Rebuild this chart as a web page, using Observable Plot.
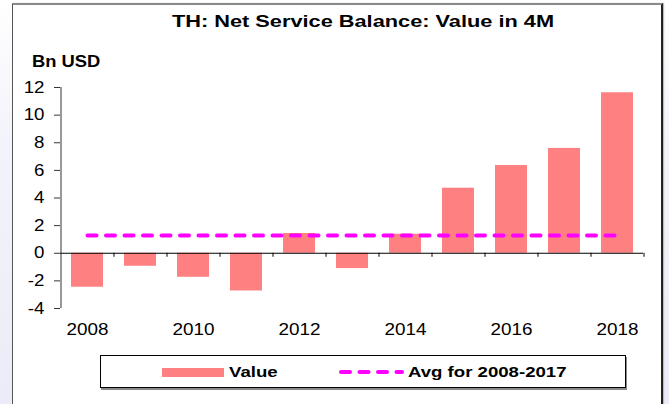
<!DOCTYPE html>
<html><head><meta charset="utf-8">
<script src="https://cdn.jsdelivr.net/npm/d3@7"></script>
<script src="https://cdn.jsdelivr.net/npm/@observablehq/plot@0.6"></script>
<style>
html,body{margin:0;padding:0;background:#fff;}
#wrap{position:relative;width:669px;height:404px;overflow:hidden;font-family:"Liberation Sans",Arial,sans-serif;color:#000;
  background:linear-gradient(to bottom,#ffffff 0%,#f3f3fb 35%,#ececf8 100%);}
#panel{position:absolute;left:12px;top:3px;width:648px;height:430px;background:#fff;border-left:1px solid #555;border-top:2px solid #8a8a8a;border-right:2px solid #222;box-shadow:1px 0 1px #bbb;}
#title{position:absolute;left:0;width:726px;top:12px;line-height:20px;text-align:center;font-weight:bold;font-size:17px;transform:scaleX(1.28);}
#unit{position:absolute;left:32px;top:52px;line-height:20px;font-weight:bold;font-size:17px;transform-origin:left center;transform:scaleX(1.08);}
#chart{position:absolute;left:0;top:0;}
#legend{position:absolute;left:100px;top:355px;width:524px;height:31px;border:1px solid #000;box-shadow:1px 2px 0 #8a8a8a;background:#fff;}
.ltxt{position:absolute;top:7px;line-height:18px;font-weight:bold;font-size:15.5px;transform-origin:left center;transform:scaleX(1.2);}
#sw{position:absolute;left:61px;top:12px;width:62px;height:9px;background:#ff8080;}
#dashsvg{position:absolute;left:237px;top:10px;}
</style>
</head><body>
<div id="wrap">
  <div id="panel"></div>
  <div id="chart"></div>
  <div id="title">TH: Net Service Balance: Value in 4M</div>
  <div id="unit">Bn USD</div>
  <div id="legend">
    <div id="sw"></div>
    <div class="ltxt" style="left:128px">Value</div>
    <svg id="dashsvg" width="70" height="12"><line x1="3" x2="64" y1="6" y2="6" stroke="#ff00ff" stroke-width="4" stroke-dasharray="9,9.5" stroke-linecap="round"/></svg>
    <div class="ltxt" style="left:307px">Avg for 2008-2017</div>
  </div>
</div>
<script>
// ---- data ----
const years = ["2008","2009","2010","2011","2012","2013","2014","2015","2016","2017","2018"];
const values = [-2.46,-0.94,-1.74,-2.73,1.43,-1.11,1.38,4.71,6.35,7.59,11.62];
const avg20082017 = 1.28;
const yTicks = [-4,-2,0,2,4,6,8,10,12];
const xTickLabels = ["2008","2010","2012","2014","2016","2018"];

// ---- layout ----
const W = 669, H = 404, ML = 60, MR = 26, MT = 87, MB = 96;
const step = (W - ML - MR) / years.length;
const data = years.map((y, i) => ({year: y, value: values[i]}));

const chart = Plot.plot({
  width: W, height: H,
  marginLeft: ML, marginRight: MR, marginTop: MT, marginBottom: MB,
  style: {background: "transparent", fontFamily: "'Liberation Sans', Arial, sans-serif", fontSize: "16px", color: "#000", overflow: "visible"},
  x: {domain: years, paddingInner: 0.4, paddingOuter: 0.2, axis: null},
  y: {domain: [-4, 12], axis: null},
  marks: [
    Plot.barY(data, {x: "year", y: "value", fill: "#ff8080"}),
    Plot.ruleY([0], {stroke: "#000", strokeWidth: 1}),
    Plot.ruleX(years, {x: d => d, dx: step / 2, y1: 0, y2: 0, insetBottom: -4, stroke: "#000"}),
    Plot.ruleX([years[0]], {x: d => d, dx: -step / 2, y1: -4, y2: 12, stroke: "#333"}),
    Plot.axisY({ticks: yTicks, tickSize: 6, tickPadding: 10, tickFormat: d => String(d), stroke: "#333", label: null}),
    Plot.axisX({ticks: xTickLabels, tickSize: 0, tickPadding: 15, tickFormat: d => d, label: null}),
    Plot.line(years, {x: d => d, y: () => avg20082017, stroke: "#ff00ff", strokeWidth: 4, strokeDasharray: "9,9.5", strokeLinecap: "round"})
  ]
});
document.getElementById("chart").appendChild(chart);

// widen tick label glyphs horizontally around their anchor point
function stretch(sel, k) {
  chart.querySelectorAll(sel).forEach(t => {
    const tr = t.getAttribute("transform") || "";
    t.setAttribute("transform", (tr + ` scale(${k},1)`).trim());
  });
}
stretch('g[aria-label="y-axis tick label"] text', 1.17);
stretch('g[aria-label="x-axis tick label"] text', 1.18);
</script>
</body></html>
